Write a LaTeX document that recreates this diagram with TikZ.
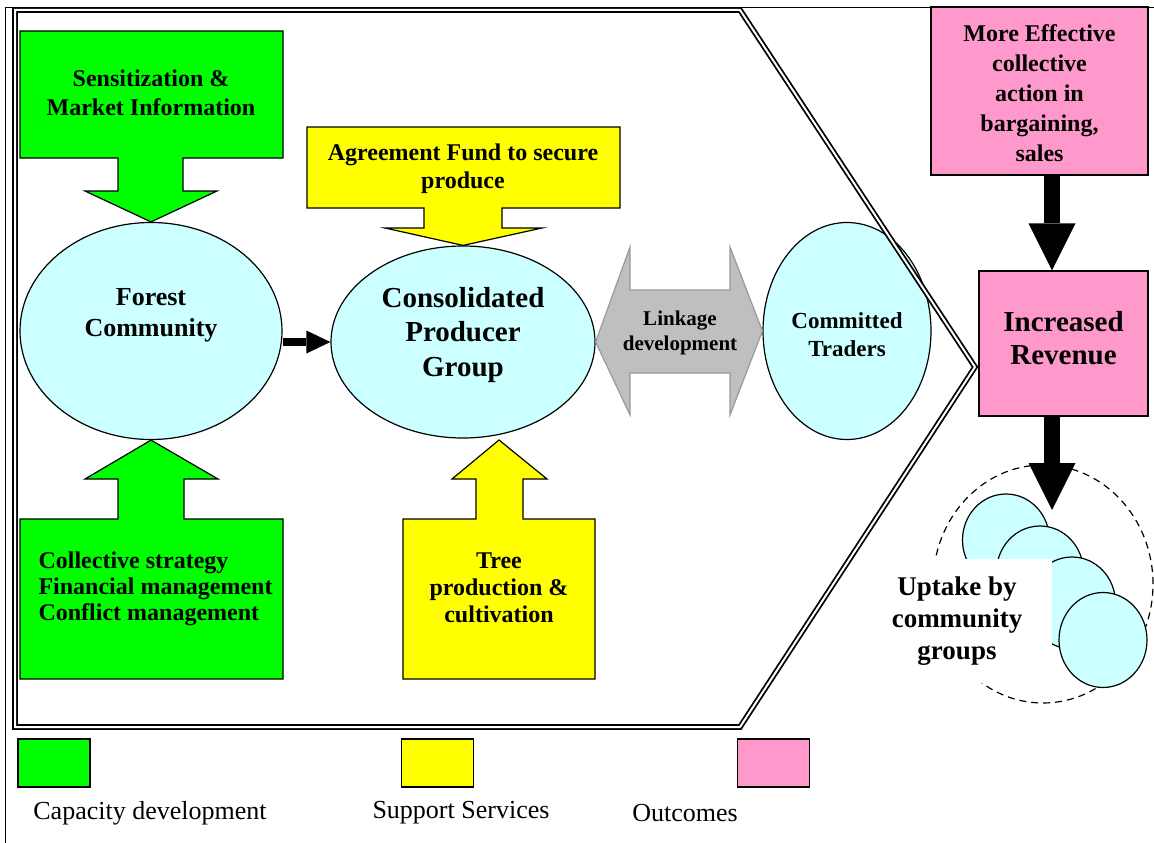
\documentclass[tikz,border=0pt]{standalone}
\usepackage{fontspec}
\setmainfont{Liberation Serif}
\usetikzlibrary{arrows.meta,shapes.geometric,positioning}

\definecolor{capgreen}{HTML}{00FF00}
\definecolor{supyellow}{HTML}{FFFF00}
\definecolor{outpink}{HTML}{FF99CC}
\definecolor{paleblue}{HTML}{CCFFFF}
\definecolor{linkgray}{HTML}{BFBFBF}
\definecolor{linkedge}{HTML}{999999}

\begin{document}
\begin{tikzpicture}[x=1pt, y=-1pt, line join=miter,
    blockarrow/.style={draw, line width=1.2pt},
    blob/.style={ellipse, draw, line width=1.2pt, fill=paleblue, inner sep=0pt},
    outbox/.style={rectangle, draw, line width=1.2pt, fill=outpink, inner sep=0pt, align=center},
    legbox/.style={rectangle, draw, line width=1.2pt, minimum width=72pt, minimum height=48pt, inner sep=0pt},
    legtxt/.style={font=\fontsize{26}{30}\selectfont},
    bold/.style 2 args={align=center, font=\bfseries\fontsize{#1}{#2}\selectfont},
    heavy/.style={line width=16pt, -{Triangle[length=47pt,width=47pt,line width=0pt]}}]

    \useasboundingbox (0,0) rectangle (1154,843);

    % Outer frame
    \draw[line width=0.8pt] (1154,7) -- (5,7) -- (5,843);

    % Ellipses
    \node[blob, minimum width=262pt, minimum height=217pt] (forest) at (151,331) {};
    \node[blob, minimum width=264pt, minimum height=192pt] (consol) at (463,342) {};
    \node[blob, minimum width=168pt, minimum height=217pt] (traders) at (847,331) {};
    \node[bold={26}{31}] (foresttxt) at ([yshift=16pt]forest.center) {Forest\\Community};
    \node[bold={29}{34.5}] (consoltxt) at ([yshift=7pt]consol.center) {Consolidated\\Producer\\Group};
    \node[bold={23}{28}] (traderstxt) at ([yshift=-4pt]traders.center) {Committed\\Traders};

    % Capacity development arrows
    \draw[blockarrow, fill=capgreen] (20,31) -- (283,31) -- (283,158) -- (183,158) -- (183,191)
        -- (217,191) -- (forest.north) -- (85,191) -- (118,191) -- (118,158) -- (20,158) -- cycle;
    \node[bold={24}{29}] (sensetxt) at (151,93) {Sensitization \&\\Market Information};
    \draw[blockarrow, fill=capgreen] (20,679) -- (283,679) -- (283,519) -- (184,519) -- (184,479)
        -- (218,479) -- (forest.south) -- (85,479) -- (118,479) -- (118,519) -- (20,519) -- cycle;
    \node[bold={24}{26}, align=left, anchor=west] (capactxt) at (35,589) {Collective strategy\\Financial management\\Conflict management};

    % Support services arrows
    \draw[blockarrow, fill=supyellow] (307,127) -- (620,127) -- (620,208) -- (502,208) -- (502,228)
        -- (542,228) -- (consol.north) -- (385,228) -- (424,228) -- (424,208) -- (307,208) -- cycle;
    \node[bold={24}{28}] (fundtxt) at (463,169) {Agreement Fund to secure\\produce};
    \draw[blockarrow, fill=supyellow] (403,679) -- (595,679) -- (595,519) -- (523,519) -- (523,479)
        -- (547,479) -- (499,440) -- (452,479) -- (476,479) -- (476,519) -- (403,519) -- cycle;
    \node[bold={24}{27}] (treetxt) at (499,588) {Tree\\production \&\\cultivation};

    % Forest community to producer group
    \draw[line width=8pt, -{Triangle[length=24pt,width=23pt,line width=0pt]}] (consol.west -| forest.east) -- (consol.west);

    % Linkage development
    \draw[line width=1.2pt, draw=linkedge, fill=linkgray] (consol.east) -- (630,247) -- (630,290) -- (730,290)
        -- (730,247) -- (traders.west) -- (730,415) -- (730,373) -- (630,373) -- (630,415) -- cycle;
    \node[bold={21}{25}] (linktxt) at (680,333) {Linkage\\development};

    % Chevron
    \draw[line width=1.8pt, double=white, double distance=2pt]
        (15,10) -- (740,10) -- (975,367) -- (740,727) -- (15,727) -- cycle;

    % Outcomes
    \node[outbox, minimum width=217pt, minimum height=168pt, font=\bfseries\fontsize{24}{30}\selectfont] (effect) at (1039.5,91)
        {\strut More Effective\\collective\\action in\\bargaining,\\sales};
    \node[outbox, minimum width=169pt, minimum height=145pt] (revenue) at (1063.5,343.5) {};
    \node[bold={29}{33}] (revtxt) at ([yshift=5pt]revenue.center) {Increased\\Revenue};
    \coordinate (arrowx) at (1052,0);
    \draw[heavy] (effect.south -| arrowx) -- (revenue.north -| arrowx);

    % Uptake by community groups
    \node[ellipse, draw, dash pattern=on 7pt off 5pt, line width=1.2pt, minimum width=220pt, minimum height=238pt] (uptake) at (1043,584) {};
    \foreach \cx/\cy/\nm in {1006/540/c1, 1040/572/c2, 1072/603/c3}
        \node[blob, minimum width=87pt, minimum height=92pt] (\nm) at (\cx,\cy) {};
    \node[bold={27}{32}, fill=white, minimum width=190pt, minimum height=124pt] (uptaketxt) at (957,621) {Uptake by\\community\\groups};
    \node[blob, minimum width=88pt, minimum height=95pt] (c4) at (1103,640) {};
    \coordinate (uptaketip) at (1052,510);
    \draw[heavy] (revenue.south -| arrowx) -- (uptaketip);

    % Legend
    \node[legbox, fill=capgreen] (leggreen) at (54,763) {};
    \node[legbox, fill=supyellow] (legyellow) at (437.5,763) {};
    \node[legbox, fill=outpink] (legpink) at (773.5,763) {};
    \node[legtxt] (leggreentxt) at (150,813) {Capacity development};
    \node[legtxt] (legyellowtxt) at (461,813) {Support Services};
    \node[legtxt] (legpinktxt) at (685,813) {Outcomes};
\end{tikzpicture}
\end{document}
